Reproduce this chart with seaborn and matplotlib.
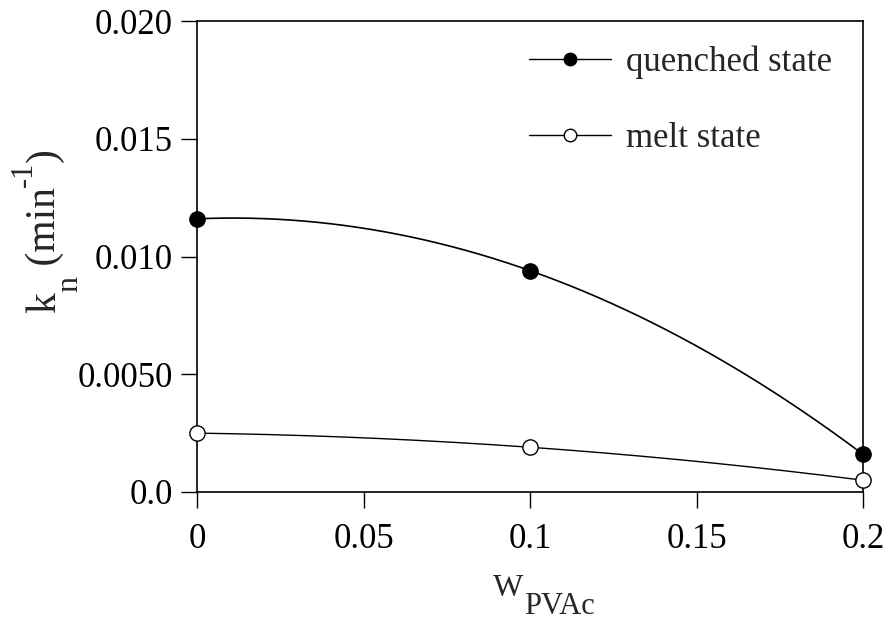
import numpy as np
import pandas as pd
import matplotlib
matplotlib.use("Agg")
import matplotlib.pyplot as plt
import seaborn as sns
from matplotlib.lines import Line2D

w_pvac = [0.0, 0.1, 0.2]
k_quenched = [0.0116, 0.0094, 0.0016]
k_melt = [0.0025, 0.0019, 0.0005]
x_ticks = [0, 0.05, 0.1, 0.15, 0.2]
x_tick_labels = ["0", "0.05", "0.1", "0.15", "0.2"]
y_ticks = [0.0, 0.005, 0.010, 0.015, 0.020]
y_tick_labels = ["0.0", "0.0050", "0.010", "0.015", "0.020"]
legend_labels = ["quenched state", "melt state"]

sns.set_theme(style="ticks")
plt.rcParams['font.family'] = ['Liberation Serif', 'DejaVu Serif']

W, H = 886, 623
fig = plt.figure(figsize=(W / 100, H / 100), dpi=100)
ax = fig.add_axes([197 / W, 1 - 492 / H, 666 / W, 471 / H])

# smooth quadratic fits through the points
xs = np.linspace(0, 0.2, 200)
fit_q = np.polyval(np.polyfit(w_pvac, k_quenched, 2), xs)
fit_m = np.polyval(np.polyfit(w_pvac, k_melt, 2), xs)
sns.lineplot(x=xs, y=fit_q, ax=ax, color='black', lw=1.2, clip_on=False)
sns.lineplot(x=xs, y=fit_m, ax=ax, color='black', lw=1.0, clip_on=False)

ax.plot(w_pvac, k_quenched, 'o', color='black', ms=11, clip_on=False, zorder=5)
ax.plot(w_pvac, k_melt, 'o', mfc='white', mec='black', mew=1.0, ms=11, clip_on=False, zorder=5)

ax.set_xlim(0, 0.2)
ax.set_ylim(0, 0.020)
ax.set_xticks(x_ticks)
ax.set_xticklabels(x_tick_labels)
ax.set_yticks(y_ticks)
ax.set_yticklabels(y_tick_labels)
ax.tick_params(axis='both', direction='out', length=11.5, width=1.0, labelsize=25, colors='black', pad=6)
ax.tick_params(axis='x', pad=11)
for s in ax.spines.values():
    s.set_color('black')
    s.set_linewidth(1.2)

handles = [
    Line2D([], [], color='black', lw=1.0, marker='o', ms=9, mfc='black', mec='black'),
    Line2D([], [], color='black', lw=1.0, marker='o', ms=9, mfc='white', mec='black'),
]
ax.legend(handles, legend_labels, loc='upper right',
          bbox_to_anchor=(1.0, 1.015), frameon=False, fontsize=25,
          handlelength=2.35, handletextpad=0.42, labelspacing=1.26)

# ---- axis titles built from pieces (large sub/superscripts as in reference)
renderer = fig.canvas.get_renderer()

def chain(pieces, x0, y0, vertical=False):
    pos = x0 if not vertical else y0
    for txt, size, off in pieces:
        if vertical:
            t = fig.text(x0 + off, pos, txt, fontsize=size, rotation=90,
                         rotation_mode='anchor', ha='left', va='baseline',
                         transform=None)
            pos = t.get_window_extent(renderer).y1
        else:
            t = fig.text(pos, y0 + off, txt, fontsize=size, ha='left',
                         va='baseline', transform=None)
            pos = t.get_window_extent(renderer).x1 + 1

# x label: W_PVAc (image pixels -> display: y from bottom)
chain([("W", 23, 0), ("PVAc", 22, -18)], 493, H - 596)
# y label: k_n (min^-1), reading bottom to top, baseline at x=55
chain([("k", 30, 0), ("n", 23, 22), (" (min", 30, 0), ("-1", 22, -23), (")", 30, 0)],
      55, H - 313, vertical=True)

fig.savefig('out.png', dpi=100)
